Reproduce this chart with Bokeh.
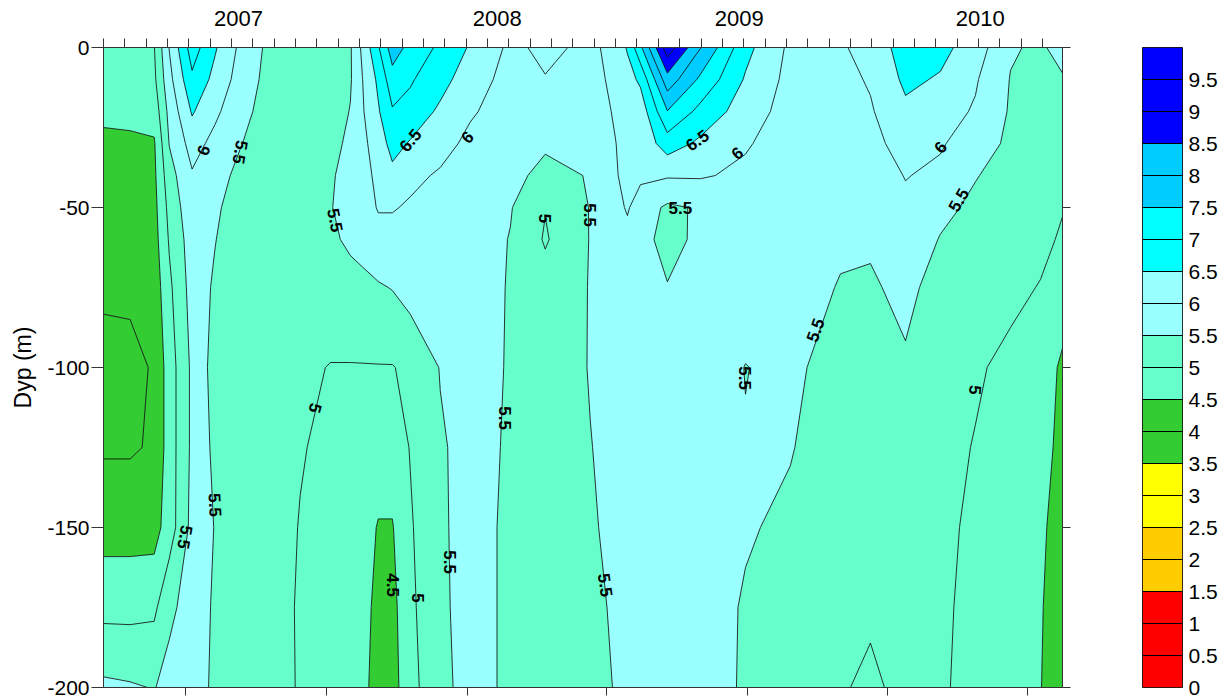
import numpy as np
from bokeh.plotting import figure
from bokeh.layouts import row
from bokeh.models import FixedTicker, LinearAxis, Range1d, CustomLabelingPolicy
from bokeh.embed import file_html
from bokeh.resources import INLINE
from bokeh.core.properties import value

# ---------------- data ----------------
# sampling times (decimal years)
times = [2007.000, 2007.104, 2007.198, 2007.257, 2007.346, 2007.436, 2007.534,
         2007.632, 2007.768, 2007.886, 2007.964, 2008.011, 2008.073, 2008.128,
         2008.198, 2008.315, 2008.432, 2008.589, 2008.725, 2008.901, 2008.999, 2009.046,
         2009.097, 2009.202, 2009.331, 2009.507, 2009.682, 2009.878, 2009.995,
         2010.132, 2010.268, 2010.405, 2010.542, 2010.659, 2010.745]
depths = [0, 10, 20, 30, 40, 50, 60, 75, 100, 125, 150, 175, 200]

temp_0m = [4.8, 4.85, 4.98, 6.02, 7.25, 6.55, 5.9, 5.45, 5.4, 5.1, 5.45, 6.1, 6.95, 7.75, 7.35, 6.9, 6.45,
           5.9, 6.1, 5.9, 6.15, 6.55, 7.4, 9.3, 8.02, 6.65, 5.9, 5.95, 6.15, 6.75, 6.65, 6.25, 5.55, 5.42, 5.7]
temp_10m = [4.75, 4.8, 4.9, 5.85, 6.9, 6.35, 5.8, 5.4, 5.35, 5.15, 5.45, 5.99, 6.6, 7.3, 7.05, 6.7, 6.2,
            5.85, 5.98, 5.85, 6.1, 6.3, 6.6, 8.3, 7.4, 6.45, 5.85, 5.85, 6.05, 6.6, 6.45, 6.05, 5.48, 5.4, 5.45]
temp_20m = [4.6, 4.65, 4.7, 5.65, 6.55, 6.1, 5.65, 5.35, 5.3, 5.25, 5.52, 5.95, 6.45, 6.95, 6.85, 6.4, 6.05,
            5.8, 5.85, 5.75, 6.05, 6.2, 6.2, 7.48, 6.85, 6.25, 5.8, 5.8, 5.95, 6.4, 6.2, 5.95, 5.45, 5.35, 5.3]
temp_30m = [4.4, 4.4, 4.45, 5.52, 6.2, 5.85, 5.52, 5.3, 5.3, 5.35, 5.6, 5.9, 6.2, 6.7, 6.45, 6.15, 5.9,
            5.75, 5.55, 5.6, 5.99, 6.15, 6.15, 6.75, 6.4, 6.05, 5.75, 5.7, 5.85, 6.2, 6.05, 5.75, 5.4, 5.25, 5.2]
temp_40m = [4.3, 4.3, 4.4, 5.3, 5.95, 5.65, 5.4, 5.3, 5.3, 5.45, 5.65, 5.85, 6.1, 6.35, 6.1, 5.95, 5.85,
            5.6, 5.4, 5.52, 5.97, 6.1, 6.1, 6.05, 6.05, 5.9, 5.75, 5.65, 5.75, 6.02, 5.9, 5.52, 5.35, 5.2, 5.1]
temp_50m = [4.25, 4.25, 4.35, 5.15, 5.85, 5.55, 5.35, 5.25, 5.3, 5.48, 5.65, 5.8, 6.03, 6.03, 5.95, 5.85, 5.8,
            5.53, 5.02, 5.52, 5.85, 6.05, 5.75, 5.42, 5.55, 5.8, 5.72, 5.6, 5.65, 5.9, 5.6, 5.42, 5.3, 5.15, 5.02]
temp_60m = [4.2, 4.2, 4.3, 5.05, 5.75, 5.51, 5.3, 5.25, 5.3, 5.4, 5.6, 5.7, 5.85, 5.85, 5.85, 5.8, 5.75,
            5.48, 4.95, 5.52, 5.8, 5.85, 5.65, 5.35, 5.6, 5.75, 5.7, 5.55, 5.55, 5.75, 5.48, 5.35, 5.25, 5.1, 4.95]
temp_75m = [4.1, 4.1, 4.2, 4.9, 5.7, 5.45, 5.3, 5.25, 5.25, 5.3, 5.3, 5.35, 5.45, 5.52, 5.7, 5.7, 5.7,
            5.47, 5.2, 5.52, 5.75, 5.72, 5.7, 5.52, 5.7, 5.7, 5.65, 5.48, 5.45, 5.6, 5.35, 5.25, 5.1, 4.98, 4.75]
temp_100m = [3.8, 3.85, 4.05, 4.75, 5.6, 5.45, 5.3, 5.25, 5.1, 4.98, 4.98, 4.98, 4.98, 4.98, 5.1, 5.52, 5.65,
             5.47, 5.25, 5.52, 5.7, 5.72, 5.75, 5.75, 5.75, 5.49, 5.6, 5.3, 5.3, 5.45, 5.2, 5.05, 4.9, 4.75, 4.42]
temp_125m = [3.95, 3.95, 4.05, 4.75, 5.6, 5.47, 5.3, 5.25, 5.03, 4.9, 4.85, 4.85, 4.75, 4.75, 5.02, 5.45, 5.65,
             5.45, 5.25, 5.49, 5.6, 5.7, 5.75, 5.8, 5.8, 5.52, 5.53, 5.2, 5.2, 5.35, 5.12, 4.98, 4.85, 4.7, 4.35]
temp_150m = [4.3, 4.3, 4.3, 4.75, 5.65, 5.49, 5.3, 5.25, 4.98, 4.85, 4.8, 4.7, 4.47, 4.47, 4.95, 5.42, 5.7,
             5.4, 5.25, 5.45, 5.6, 5.7, 5.75, 5.8, 5.8, 5.55, 5.4, 5.15, 5.15, 5.25, 5.06, 4.95, 4.85, 4.6, 4.25]
temp_175m = [4.85, 4.85, 4.9, 5.4, 5.7, 5.45, 5.3, 5.25, 4.95, 4.85, 4.8, 4.75, 4.3, 4.35, 4.9, 5.4, 5.7,
             5.4, 5.25, 5.4, 5.55, 5.65, 5.7, 5.8, 5.75, 5.45, 5.3, 5.1, 5.08, 5.2, 5.05, 4.92, 4.85, 4.55, 4.15]
temp_200m = [5.6, 5.55, 5.48, 5.65, 5.75, 5.4, 5.35, 5.3, 4.95, 4.85, 4.8, 4.7, 4.2, 4.3, 4.85, 5.35, 5.7,
             5.4, 5.25, 5.35, 5.52, 5.6, 5.65, 5.75, 5.7, 5.45, 5.25, 5.05, 4.9, 5.15, 5.04, 4.9, 4.85, 4.52, 4.1]

levels = [0, 0.5, 1, 1.5, 2, 2.5, 3, 3.5, 4, 4.5, 5, 5.5, 6, 6.5, 7, 7.5, 8, 8.5, 9, 9.5, 10]
band_colors = ["#FF0000", "#FF0000", "#FF0000", "#FFCC00", "#FFCC00", "#FFFF00", "#FFFF00",
               "#33CC33", "#33CC33", "#66FFCC", "#66FFCC", "#99FFFF", "#99FFFF", "#00FFFF",
               "#00FFFF", "#00CCFF", "#00CCFF", "#0000FF", "#0000FF", "#0000FF"]
cbar_labels = ["0", "0.5", "1", "1.5", "2", "2.5", "3", "3.5", "4", "4.5", "5", "5.5", "6",
               "6.5", "7", "7.5", "8", "8.5", "9", "9.5"]

year_labels = ["2007", "2008", "2009", "2010"]
year_label_t = [2007.527, 2008.538, 2009.483, 2010.424]
bottom_ticks = [2007.322, 2007.869, 2008.420, 2008.966, 2009.515, 2010.062, 2010.609]
depth_ticks = [-200, -150, -100, -50, 0]
depth_tick_labels = ["-200", "-150", "-100", "-50", "0"]

# contour labels (time, depth, text, angle in degrees)
clab_t = [2007.390, 2007.534, 2007.905, 2008.198, 2008.421, 2008.726, 2008.901, 2009.319,
          2009.475, 2009.253, 2010.268, 2010.339, 2009.780, 2009.506, 2010.405, 2008.569,
          2008.354, 2008.960, 2008.229, 2008.131, 2007.827, 2007.436, 2007.319]
clab_y = [-32.1, -32.7, -54.0, -29.0, -28.0, -53.4, -52.4, -29.0,
          -33.0, -50.2, -31.2, -47.7, -88.3, -103.3, -107.0, -115.8,
          -160.8, -168.0, -172.0, -168.0, -112.7, -143.0, -153.0]
clab_txt = ["6", "5.5", "5.5", "6.5", "6", "5", "5.5", "6.5",
            "6", "5.5", "6", "5.5", "5.5", "5.5", "5", "5.5",
            "5.5", "5.5", "5", "4.5", "5", "5.5", "5.5"]
clab_ang = [70, -100, -79, 50, 45, -90, -90, 35,
            40, 0, 50, 60, 70, -90, -95, -90,
            -90, -82, -90, -90, -105, -87, -100]

# ---------------- figure ----------------
FONT = "Liberation Sans"
rows_by_depth = [temp_0m, temp_10m, temp_20m, temp_30m, temp_40m, temp_50m, temp_60m,
                 temp_75m, temp_100m, temp_125m, temp_150m, temp_175m, temp_200m]
Z = np.array(rows_by_depth[::-1], dtype=float)
ys = np.array([-d for d in depths[::-1]], dtype=float)
xs = np.array(times, dtype=float)

p = figure(width=1074, height=698, x_range=Range1d(2007.0, 2010.745), y_range=Range1d(-200, 0),
           output_backend="svg", toolbar_location=None, x_axis_location=None, y_axis_location=None,
           min_border_left=103, min_border_right=12, min_border_top=47, min_border_bottom=11)
p.grid.visible = False
p.outline_line_color = "#333333"
p.background_fill_color = "white"

p.contour(xs, ys, Z, levels, fill_color=band_colors, line_color="black", line_width=0.8)

p.text(x=clab_t, y=clab_y, text=clab_txt, angle=clab_ang, angle_units="deg",
       text_align="center", text_baseline="middle", text_font=value(FONT),
       text_font_style="bold", text_font_size="17px", text_color="black")

AX = "#333333"
no_labels = CustomLabelingPolicy(code="for (const i of indices) { indices.unset(i) }\nreturn indices")

month_ticks = [2007 + k / 12 for k in range(45)]
top = LinearAxis(ticker=FixedTicker(ticks=year_label_t, minor_ticks=month_ticks),
                 major_label_overrides={t: s for t, s in zip(year_label_t, year_labels)},
                 major_tick_out=0, major_tick_in=0, minor_tick_out=9, minor_tick_in=0,
                 major_label_standoff=13, major_label_text_font_size="22px",
                 major_label_text_font=FONT, major_label_text_color="black",
                 axis_line_color=AX, major_tick_line_color=AX, minor_tick_line_color=AX)
p.add_layout(top, "above")

bottom = LinearAxis(ticker=FixedTicker(ticks=bottom_ticks, minor_ticks=[]),
                    major_label_overrides={t: "" for t in bottom_ticks},
                    major_label_text_font_size="1px",
                    major_tick_out=8, major_tick_in=0, minor_tick_out=0,
                    major_label_policy=no_labels, major_label_standoff=0,
                    axis_line_color=AX, major_tick_line_color=AX)
p.add_layout(bottom, "below")

left = LinearAxis(ticker=FixedTicker(ticks=depth_ticks, minor_ticks=[]),
                  major_label_overrides={t: s for t, s in zip(depth_ticks, depth_tick_labels)},
                  major_tick_out=12, major_tick_in=0, minor_tick_out=0,
                  major_label_standoff=2, major_label_text_font_size="21px",
                  major_label_text_font=FONT, major_label_text_color="black",
                  axis_label="Dyp (m)", axis_label_text_font_size="23px",
                  axis_label_text_font_style="normal", axis_label_text_font=FONT,
                  axis_label_text_color="black", axis_label_standoff=8,
                  axis_line_color=AX, major_tick_line_color=AX)
p.add_layout(left, "left")

right = LinearAxis(ticker=FixedTicker(ticks=depth_ticks, minor_ticks=[]),
                   major_label_overrides={t: "" for t in depth_ticks},
                   major_label_text_font_size="1px",
                   major_tick_out=8, major_tick_in=0, minor_tick_out=0,
                   major_label_policy=no_labels, major_label_standoff=0,
                   axis_line_color=AX, major_tick_line_color=AX)
p.add_layout(right, "right")

# ---------------- colour bar ----------------
cb = figure(width=148, height=698, x_range=Range1d(0, 1), y_range=Range1d(0, 10),
            output_backend="svg", toolbar_location=None, x_axis_location=None, y_axis_location=None,
            min_border_left=68, min_border_right=40, min_border_top=47, min_border_bottom=11)
cb.grid.visible = False
cb.outline_line_color = "#333333"
cb.quad(left=0, right=1, bottom=levels[:-1], top=levels[1:], fill_color=band_colors,
        line_color="black", line_width=1)
cb_axis = LinearAxis(ticker=FixedTicker(ticks=levels[:-1], minor_ticks=[]),
                     major_label_overrides={lv: lb for lv, lb in zip(levels[:-1], cbar_labels)},
                     major_tick_out=0, major_tick_in=0, minor_tick_out=0,
                     axis_line_color=None, major_label_standoff=6,
                     major_label_text_font_size="21px", major_label_text_font=FONT,
                     major_label_text_color="black")
cb.add_layout(cb_axis, "right")

layout = row(p, cb)
open("out.html", "w").write(file_html(layout, INLINE))
